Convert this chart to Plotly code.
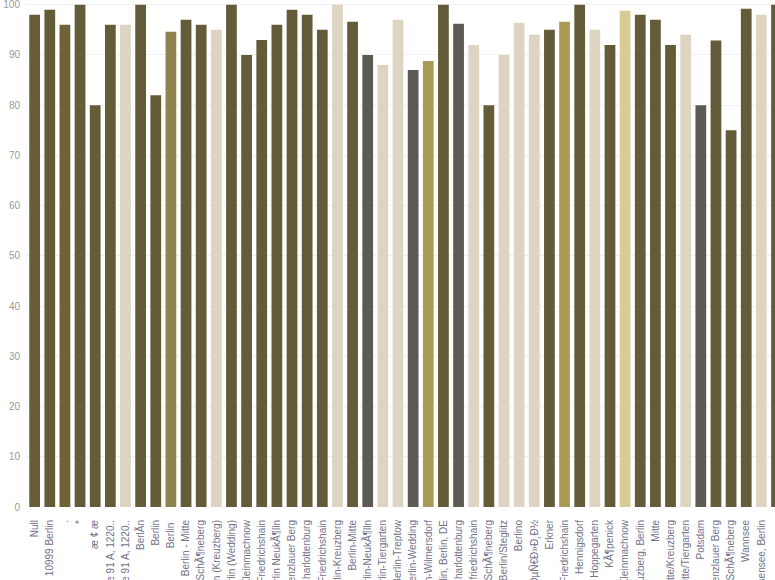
import plotly.graph_objects as go

labels = [
    "Null", "10999 Berlin", ".", "*", "æ ¢ æ",
    "StraÃe 91 A, 1220..", "StraÅe 91 A, 1220..", "BerlÃn", "Berlin", "Berlin ",
    "Berlin - Mitte", "Berlin - SchÃ¶neberg", "Berlin (Kreuzberg)", "Berlin (Wedding)", "Berlin Kleinmachnow",
    "Berlin Friedrichshain", "Berlin NeukÃ¶lln", "Berlin Prenzlauer Berg", "Berlin Charlottenburg", "Berlin-Friedrichshain",
    "Berlin-Kreuzberg", "Berlin-Mitte", "Berlin-NeukÃ¶lln", "Berlin-Tiergarten", "Berlin-Treptow",
    "Berlin-Wedding", "Berlin-Wilmersdorf", "Berlin, Berlin, DE", "Berlin, Charlottenburg", "Berlin, friedrichshain",
    "Berlin, SchÃ¶neberg", "Berlin/Steglitz", "Berlino", "Ð‘ÐµÑ€Ð»Ð¸Ð½", "Erkner",
    "Friedrichshain", "Hennigsdorf", "Hoppegarten", "KÃ¶penick", "Kleinmachnow",
    "Kreuzberg, Berlin", "Mitte", "Berlin Mitte/Kreuzberg", "Berlin Mitte/Tiergarten", "Potsdam",
    "Prenzlauer Berg", "SchÃ¶neberg", "Wannsee", "Weissensee, Berlin", "Weißensee",
]

values = [
    98, 99, 96, 100, 80,
    96, 96, 100, 82, 94.6,
    97, 96, 95, 100, 90,
    93, 96, 99, 98, 95,
    100, 96.6, 90, 88, 97,
    87, 88.8, 100, 96.2, 92,
    80, 90, 96.4, 94, 95,
    96.6, 100, 95, 92, 98.8,
    98, 97, 92, 94, 80,
    92.9, 75, 99.2, 98, 100,
]

color_groups = [
    "olive1", "dark", "olive2", "dark", "dark",
    "dark", "beige", "dark", "dark", "olive3",
    "dark", "dark", "beige", "dark", "dark",
    "dark", "dark", "dark", "dark", "dark",
    "beige", "dark", "gray", "beige", "beige",
    "gray", "gold", "dark", "gray", "beige",
    "dark", "beige", "beige", "beige", "dark",
    "gold", "dark", "beige", "dark", "lightgold",
    "dark", "dark", "dark", "beige", "gray",
    "dark", "dark", "dark", "beige", "dark",
]

palette = {
    "dark": "#645b38",
    "olive1": "#685d38",
    "olive2": "#6e6338",
    "olive3": "#8e844f",
    "beige": "#ddd4c1",
    "gray": "#5d5a55",
    "gold": "#a99a55",
    "lightgold": "#d9cb94",
}

positions = list(range(len(labels)))
colors = [palette[g] for g in color_groups]

fig = go.Figure(
    go.Bar(
        x=positions,
        y=values,
        marker=dict(color=colors, line=dict(width=0)),
        hovertext=labels,
    )
)

fig.update_layout(
    width=775,
    height=580,
    margin=dict(l=26, r=0, t=0, b=73),
    paper_bgcolor="white",
    plot_bgcolor="white",
    bargap=0.29,
    showlegend=False,
    font=dict(family="Liberation Sans, Arial, sans-serif", size=10),
)

fig.update_xaxes(
    range=[-0.571, 48.9],
    tickmode="array",
    tickvals=positions,
    ticktext=labels,
    tickangle=-90,
    tickfont=dict(size=10, color="#72728a"),
    showgrid=False,
    zeroline=False,
    showline=False,
    ticks="",
    automargin=False,
    ticklabelstandoff=10,
    ticklabeloverflow="allow",
)

fig.update_yaxes(
    range=[0, 100.94],
    tickvals=[0, 10, 20, 30, 40, 50, 60, 70, 80, 90, 100],
    tickfont=dict(size=10, color="#999999"),
    showgrid=True,
    gridcolor="#f0f0f0",
    gridwidth=1,
    zeroline=False,
    showline=False,
    ticks="",
    automargin=False,
    ticklabelstandoff=5,
    ticklabeloverflow="allow",
)

fig.write_html(
    "out.html",
    config={"displayModeBar": False},
    post_script="document.body.style.margin='0';document.body.style.overflow='hidden';",
)
